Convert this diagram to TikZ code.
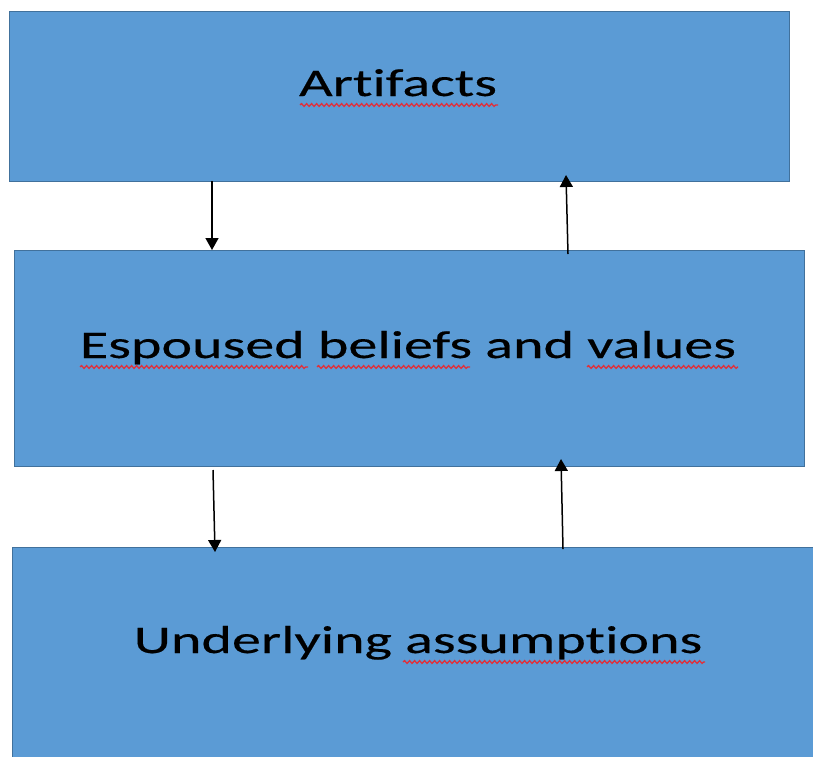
\documentclass[tikz,border=0pt]{standalone}
\usepackage{fontspec}
\newfontfamily\boxfont[FakeStretch=1.49, Ligatures={NoCommon}, FakeBold=0.4]{Carlito}
\usetikzlibrary{arrows.meta,decorations.pathmorphing}
\definecolor{boxfill}{HTML}{5B9BD5}
\definecolor{boxline}{HTML}{41719C}
\definecolor{spellred}{HTML}{E0303A}
\tikzset{
  layer/.style={draw=boxline, line width=1.2pt, fill=boxfill, anchor=north west,
    inner sep=0pt, rectangle},
  caption/.style={anchor=base, inner sep=0pt, font=\boxfont\fontsize{39}{44}\selectfont, text=black},
  arr/.style={-{Triangle[length=12pt,width=13pt]}, line width=1.5pt, black},
  squiggle/.style={draw=spellred, line width=1.3pt,
    decorate, decoration={snake, amplitude=1.4pt, segment length=5pt}}
}
\begin{document}
\begin{tikzpicture}[x=1pt,y=-1pt]
\useasboundingbox (0,0) rectangle (813,756);
\fill[white] (0,0) rectangle (813,756);

% the three layers
\node[layer, minimum width=780pt, minimum height=170pt] (art) at (9,11) {};
\node[layer, minimum width=790pt, minimum height=216pt] (esp) at (14,250) {};
\node[layer, minimum width=830pt, minimum height=230pt] (und) at (12,547) {};

% layer titles
\node[caption] (artT) at (398,96) {Artifacts};
\node[caption] (espT) at (408,358) {Espoused beliefs and values};
\node[caption] (undT) at (418,653) {Underlying assumptions};

% spell-check underlines
\draw[squiggle] (300,105) -- (498,105);
\draw[squiggle] (80,367) -- (308,367);
\draw[squiggle] (317,367) -- (470,367);
\draw[squiggle] (587,367) -- (738,367);
\draw[squiggle] (403,662) -- (705,662);

% arrow end points
\coordinate (d1a) at (212,181);
\coordinate (d1b) at (212,250);
\coordinate (u1a) at (568,254);
\coordinate (u1b) at (566,175);
\coordinate (d2a) at (213,470);
\coordinate (d2b) at (215,552);
\coordinate (u2a) at (563,549);
\coordinate (u2b) at (561,459);

\draw[arr] (d1a) -- (d1b);
\draw[arr] (u1a) -- (u1b);
\draw[arr] (d2a) -- (d2b);
\draw[arr] (u2a) -- (u2b);
\end{tikzpicture}
\end{document}
